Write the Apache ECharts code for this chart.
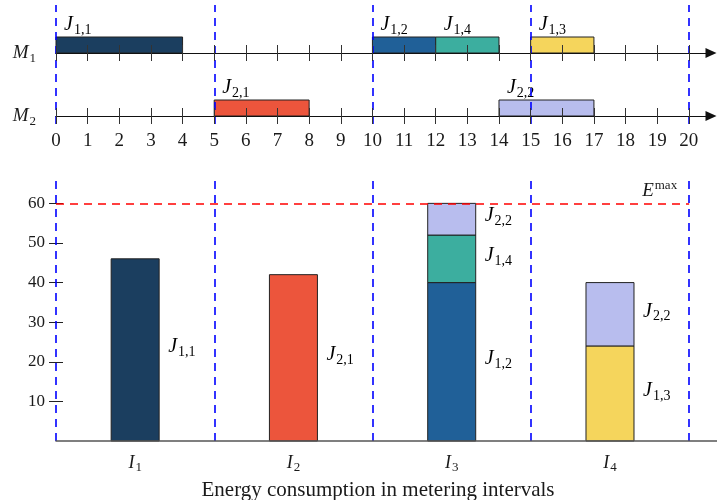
<!DOCTYPE html>
<html><head><meta charset="utf-8">
<script src="https://cdn.jsdelivr.net/npm/echarts@6/dist/echarts.min.js"></script>
<style>html,body{margin:0;padding:0;background:#fff}#c{width:717px;height:500px}</style>
</head><body><div id="c"></div>
<script>
// ---------- data ----------
const timeTicks = [0,1,2,3,4,5,6,7,8,9,10,11,12,13,14,15,16,17,18,19,20];
const intervalBounds = [0,5,10,15,20];
const intervalCenters = [2.5,7.5,12.5,17.5];
const intervalNames = ['1','2','3','4'];
const energyTicks = [10,20,30,40,50,60];
const energyMax = 60;
const machineNames = ['1','2'];

const m1Jobs  = ['1,1','1,2','1,4','1,3'];
const m1Start = [0,10,12,15];
const m1End   = [4,12,14,17];
const m2Jobs  = ['2,1','2,2'];
const m2Start = [5,14];
const m2End   = [8,17];

// stacking order (bottom to top)
const energyJobs = ['1,1','2,1','1,2','1,3','1,4','2,2'];
const energyJ11 = [46, null, null, null];
const energyJ21 = [null, 42, null, null];
const energyJ12 = [null, null, 40, null];
const energyJ13 = [null, null, null, 24];
const energyJ14 = [null, null, 12, null];
const energyJ22 = [null, null, 8, 16];
const energyValues = [energyJ11, energyJ21, energyJ12, energyJ13, energyJ14, energyJ22];

const jobColors = {
  '1,1':'#1b3e5f', '2,1':'#ec553c', '1,2':'#206098',
  '1,4':'#3cae9f', '1,3':'#f5d55c', '2,2':'#b8bdee'
};

// ---------- style ----------
const FONT = 'Liberation Serif';
const TXT = '#1a1a1a';
const XMAX_G = 20.7, XMAX_B = 20.88, YMAX_B = 65.9;
const BAR_W = 48;

const jRich = {
  j: {fontFamily: FONT, fontStyle: 'italic', fontSize: 20, color: TXT, lineHeight: 20},
  s: {fontFamily: FONT, fontSize: 14, color: TXT, lineHeight: 14, padding: [11,0,0,1]}
};
const jText = n => '{j|J}{s|' + n + '}';

function ganttSeries(idx, jobs, starts, ends) {
  return {
    type: 'custom', xAxisIndex: idx*2, yAxisIndex: idx, z: 2,
    data: starts.map((s, i) => [s, ends[i], i]),
    encode: {x: [0,1]},
    renderItem: (params, api) => {
      const s = api.value(0), e = api.value(1);
      const name = jobs[api.value(2)];
      const p0 = api.coord([s, 1]);
      const p1 = api.coord([e, 0]);
      return {type: 'group', children: [
        {type: 'rect', shape: {x: p0[0], y: p0[1], width: p1[0]-p0[0], height: p1[1]-p0[1]},
         style: {fill: jobColors[name], stroke: '#222', lineWidth: 1}},
        {type: 'text', x: p0[0] + 8, y: p0[1] - 2,
         style: {text: jText(name), rich: jRich, align: 'left', verticalAlign: 'bottom'}}
      ]};
    }
  };
}

// stacked energy segments: [center, base, top, jobIndex]
const energySegments = [];
const runningTotal = intervalCenters.map(() => 0);
energyJobs.forEach((job, k) => {
  energyValues[k].forEach((v, i) => {
    if (v == null) return;
    energySegments.push([intervalCenters[i], runningTotal[i], runningTotal[i] + v, k]);
    runningTotal[i] += v;
  });
});

const ganttAxisMain = (grid, showLabel) => ({
  type: 'value', gridIndex: grid, position: 'bottom', min: 0, max: XMAX_G, z: 5,
  axisLine: {show: true, lineStyle: {color: '#111', width: 1.2}, symbol: ['none','triangle'], symbolSize: [10, 11]},
  axisTick: {show: true, length: 8, lineStyle: {color: '#333', width: 1}, customValues: timeTicks},
  axisLabel: {show: showLabel, customValues: timeTicks, margin: 16, fontFamily: FONT, fontSize: 19, color: TXT},
  splitLine: {show: false}
});
const ganttAxisInner = (grid) => ({
  type: 'value', gridIndex: grid, position: 'bottom', min: 0, max: XMAX_G, z: 5,
  axisLine: {show: false},
  axisTick: {show: true, inside: true, length: 8, lineStyle: {color: '#333', width: 1}, customValues: timeTicks},
  axisLabel: {show: false}, splitLine: {show: false}
});
const machineAxis = (grid, name) => ({
  type: 'value', gridIndex: grid, position: 'left', min: 0, max: 1,
  axisLine: {show: false}, axisTick: {show: false}, splitLine: {show: false},
  axisLabel: {show: true, customValues: [0], margin: 20, formatter: () => '{m|M}{s|' + name + '}',
    rich: {m: {fontFamily: FONT, fontStyle: 'italic', fontSize: 19, color: TXT, lineHeight: 20},
           s: {fontFamily: FONT, fontSize: 13, color: TXT, lineHeight: 13, padding: [11,0,0,1]}}}
});

const blueDash = {color: '#0000ff', type: [8,6], width: 1.6};

const option = {
  animation: false,
  backgroundColor: '#fff',
  title: {text: 'Energy consumption in metering intervals', left: 373, top: 475, textAlign: 'center',
    textStyle: {fontFamily: FONT, fontSize: 21, fontWeight: 'normal', color: TXT}},
  grid: [
    {left: 56, right: 6, top: 37, height: 16},
    {left: 56, right: 6, top: 100, height: 16},
    {left: 56, right: 0, top: 5, height: 119},
    {left: 56, right: 0, top: 180, height: 261}
  ],
  xAxis: [
    ganttAxisMain(0, false), ganttAxisInner(0),
    ganttAxisMain(1, true), ganttAxisInner(1),
    {type: 'value', gridIndex: 2, min: 0, max: XMAX_B, show: false},
    {type: 'value', gridIndex: 3, position: 'bottom', min: 0, max: XMAX_B, z: 5,
     axisLine: {show: true, lineStyle: {color: '#555', width: 1.5}},
     axisTick: {show: false}, splitLine: {show: false},
     axisLabel: {show: true, customValues: intervalCenters, margin: 12,
       formatter: v => '{i|I}{s|' + intervalNames[intervalCenters.indexOf(v)] + '}',
       rich: {i: {fontFamily: FONT, fontStyle: 'italic', fontSize: 18, color: TXT, lineHeight: 20},
              s: {fontFamily: FONT, fontSize: 13, color: TXT, lineHeight: 13, padding: [10,0,0,1]}}}}
  ],
  yAxis: [
    machineAxis(0, machineNames[0]),
    machineAxis(1, machineNames[1]),
    {type: 'value', gridIndex: 2, min: 0, max: 1, show: false},
    {type: 'value', gridIndex: 3, position: 'left', min: 0, max: YMAX_B,
     axisLine: {show: false}, splitLine: {show: false},
     axisTick: {show: true, length: 7, lineStyle: {color: '#222', width: 1}, customValues: energyTicks},
     axisLabel: {show: true, customValues: energyTicks, margin: 11, fontFamily: FONT, fontSize: 17, color: TXT}},
    {type: 'value', gridIndex: 3, position: 'left', min: 0, max: YMAX_B,
     axisLine: {show: false}, splitLine: {show: false}, axisLabel: {show: false},
     axisTick: {show: true, inside: true, length: 7, lineStyle: {color: '#222', width: 1}, customValues: energyTicks}}
  ],
  series: [
    ganttSeries(0, m1Jobs, m1Start, m1End),
    ganttSeries(1, m2Jobs, m2Start, m2End),
    {type: 'line', xAxisIndex: 4, yAxisIndex: 2, data: [], z: 10, silent: true,
     markLine: {silent: true, symbol: ['none','none'], label: {show: false}, lineStyle: blueDash,
       data: intervalBounds.map(v => ({xAxis: v}))}},
    {type: 'custom', xAxisIndex: 5, yAxisIndex: 3, z: 2,
     data: energySegments,
     encode: {x: 0, y: [1, 2]},
     renderItem: (params, api) => {
       const x = api.value(0), b = api.value(1), t = api.value(2);
       const job = energyJobs[api.value(3)];
       const pt = api.coord([x, t]);
       const pb = api.coord([x, b]);
       return {type: 'group', children: [
         {type: 'rect', shape: {x: pt[0] - BAR_W/2, y: pt[1], width: BAR_W, height: pb[1] - pt[1]},
          style: {fill: jobColors[job], stroke: '#222', lineWidth: 1}},
         {type: 'text', x: pt[0] + BAR_W/2 + 9, y: (pt[1] + pb[1]) / 2 - 3,
          style: {text: jText(job), rich: jRich, align: 'left', verticalAlign: 'middle'}}
       ]};
     }},
    {type: 'line', xAxisIndex: 5, yAxisIndex: 3, data: [], z: 10, silent: true,
     markLine: {silent: true, symbol: ['none','none'], label: {show: false}, lineStyle: blueDash,
       data: [
         ...intervalBounds.map(v => ({xAxis: v})),
         [{coord: [intervalBounds[0], energyMax], lineStyle: {color: '#ff0000', type: [8,6], width: 1.5},
           label: {show: true, position: 'insideEndTop', distance: [12, 2], formatter: '{e|E}{m|max}',
             rich: {e: {fontFamily: FONT, fontStyle: 'italic', fontSize: 19, color: TXT, lineHeight: 20},
                    m: {fontFamily: FONT, fontSize: 13, color: TXT, lineHeight: 13, padding: [0,0,11,1]}}}},
          {coord: [intervalBounds[4], energyMax]}]
       ]}}
  ]
};

const chart = echarts.init(document.getElementById('c'), null, {renderer: 'canvas'});
chart.setOption(option);
</script></body></html>
